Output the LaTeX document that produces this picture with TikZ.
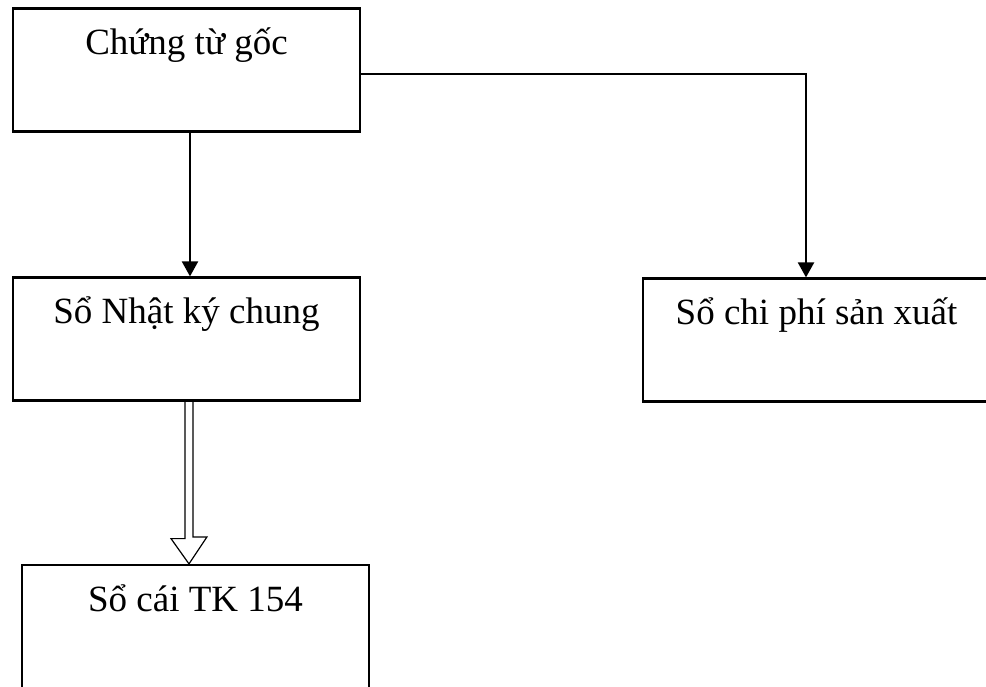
\documentclass[tikz,border=0pt]{standalone}
\usepackage{fontspec}
\setmainfont{Liberation Serif}
\usetikzlibrary{arrows.meta}

\tikzset{
  ledger/.style={draw, line width=2.2pt, inner sep=0pt, minimum width=347pt,
    text height=46pt, text depth=77pt, font=\fontsize{37}{44}\selectfont},
  flow/.style={line width=2.2pt, -{Triangle[width=16pt,length=15pt]}},
  hollowarrow/.style={line width=1.2pt, line join=miter},
}

\begin{document}
\begin{tikzpicture}[x=1pt,y=-1pt]
  \useasboundingbox (0,0) rectangle (986,686);
  \clip (0,0) rectangle (986,686);

  % source documents and books
  \node[ledger] (goc) at (186.5,70) {Chứng từ gốc};
  \node[ledger] (nkc) at (186.5,339) {Sổ Nhật ký chung};
  \node[ledger] (cp)  at (816.5,340) {Sổ chi phí sản xuất};
  \node[ledger] (sc)  at (195.5,626.5) {Sổ cái TK 154};

  % guide coordinates for the connector lines
  \coordinate (leftx) at (190,0);
  \coordinate (rightx) at (806,0);
  \coordinate (taprow) at (0,74);
  \coordinate (dblx) at (189,0);

  % vouchers to the general journal
  \draw[flow] (goc.south -| leftx) -- (nkc.north -| leftx);

  % vouchers to the production cost book
  \draw[flow] (goc.east |- taprow) -- (rightx |- taprow) -- (cp.north -| rightx);

  % journal posted to the ledger: outlined block arrow
  \draw[hollowarrow] (nkc.south -| dblx) ++(-4,0) -- ++(0,137) -- ++(-14,0)
    -- (sc.north -| dblx) -- ++(18,-27) -- ++(-14,0) -- ++(0,-137);
\end{tikzpicture}
\end{document}
